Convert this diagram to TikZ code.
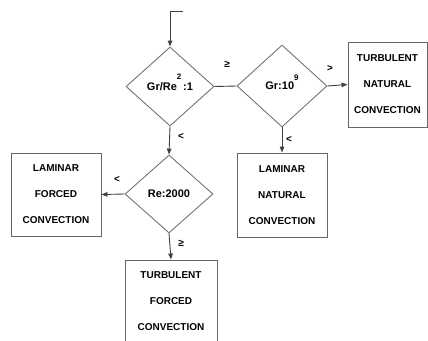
\documentclass[tikz,border=0pt]{standalone}
\usepackage{fontspec}
\setmainfont{Liberation Sans}
\usetikzlibrary{shapes.geometric,arrows.meta}
\begin{document}
\begin{tikzpicture}[x=1pt,y=-1pt,
  dec/.style={diamond,draw=black!55,line width=0.9pt,inner sep=0pt,font=\fontsize{11}{13}\selectfont\bfseries},
  res/.style={rectangle,draw=black!60,line width=0.9pt,inner sep=0pt,align=center,font=\fontsize{10}{26}\selectfont\bfseries},
  conn/.style={draw=black!75,line width=0.9pt},
  arr/.style={conn,-{Triangle[length=6pt,width=4.5pt]}},
  lab/.style={font=\fontsize{10}{12}\selectfont\bfseries,inner sep=0pt}]
\useasboundingbox (0,0) rectangle (428,340);
\clip (0,0) rectangle (428,340);
% decisions
\node[dec,minimum width=88pt,minimum height=79pt] (d1) at (170,86.5)
  {Gr/Re\smash{\raisebox{11pt}{\fontsize{8}{9}\selectfont 2}}\,:1};
\node[dec,minimum width=90pt,minimum height=82pt] (d2) at (282,86)
  {Gr:10\smash{\raisebox{9pt}{\fontsize{8}{9}\selectfont 9}}};
\node[dec,minimum width=88pt,minimum height=78pt] (d3) at (169,194) {Re:2000};
% results
\node[res,minimum width=79pt,minimum height=85pt] (tnc) at (387.5,84.5) {TURBULENT\\NATURAL\\CONVECTION};
\node[res,minimum width=90pt,minimum height=84pt] (lnc) at (282,195) {LAMINAR\\NATURAL\\CONVECTION};
\node[res,minimum width=90pt,minimum height=83pt] (lfc) at (56,194.5) {LAMINAR\\FORCED\\CONVECTION};
\node[res,minimum width=92pt,minimum height=82pt] (tfc) at (171,301) {TURBULENT\\FORCED\\CONVECTION};
% incoming
\coordinate (in) at (183,11);
\draw[arr] (in) -| (d1.north);
% connectors
\draw[conn] (d1.east) -- (d2.west);
\draw[arr] (d2.east) -- (tnc.west);
\draw[arr] (d2.south) -- (lnc.north);
\draw[arr] (d1.south) -- (d3.north);
\draw[arr] (d3.west) -- (lfc.east);
\draw[arr] (d3.south) -- (tfc.north);
% labels
\node[lab] (l1) at (227,64) {≥};
\node[lab] (l2) at (330,68) {>};
\node[lab] (l3) at (289,139) {<};
\node[lab] (l4) at (181,136) {<};
\node[lab] (l5) at (117,179) {<};
\node[lab] (l6) at (181,243) {≥};
\end{tikzpicture}
\end{document}
